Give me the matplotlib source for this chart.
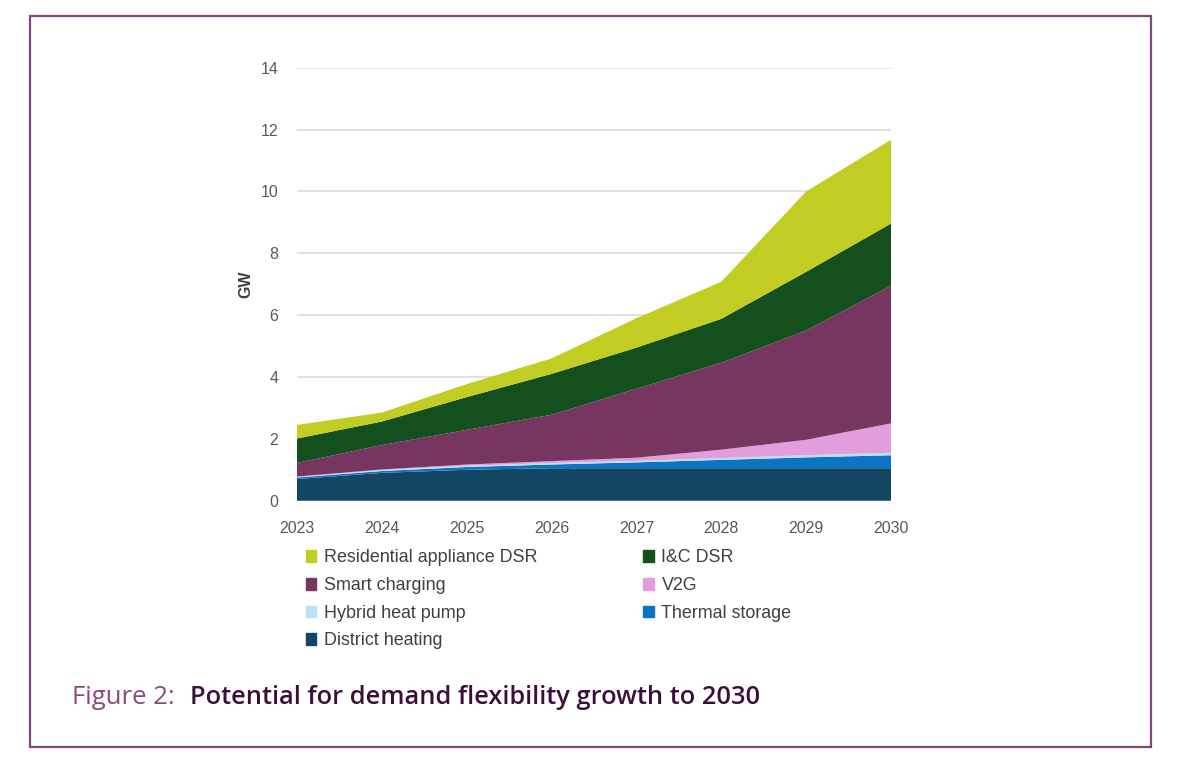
import matplotlib.pyplot as plt
import matplotlib.patches as mpatches
import numpy as np

plt.rcParams['font.family'] = ['Liberation Sans', 'DejaVu Sans']

years = [2023, 2024, 2025, 2026, 2027, 2028, 2029, 2030]

# GW per category (stacked from the bottom up)
district_heating = [0.70, 0.90, 1.00, 1.05, 1.05, 1.05, 1.05, 1.05]
thermal_storage = [0.05, 0.06, 0.09, 0.12, 0.19, 0.27, 0.35, 0.42]
hybrid_heat_pump = [0.02, 0.03, 0.04, 0.05, 0.05, 0.06, 0.07, 0.08]
v2g = [0.01, 0.02, 0.04, 0.06, 0.10, 0.27, 0.50, 0.95]
smart_charging = [0.44, 0.79, 1.12, 1.50, 2.23, 2.81, 3.53, 4.45]
ic_dsr = [0.79, 0.76, 1.06, 1.32, 1.33, 1.42, 1.90, 2.01]
residential_dsr = [0.44, 0.29, 0.42, 0.50, 0.95, 1.20, 2.60, 2.71]

labels = ['District heating', 'Thermal storage', 'Hybrid heat pump', 'V2G',
          'Smart charging', 'I&C DSR', 'Residential appliance DSR']
colors = ['#134663', '#0b74c4', '#b9e3f5', '#e29ddc',
          '#76365f', '#14501e', '#c2cd23']

fig = plt.figure(figsize=(11.79, 7.64), dpi=100)
W, H = 1179., 764.

# frame round the figure
fig.patches.append(mpatches.Rectangle((30/W, 1 - 747/H), (1151-30)/W, (747-16)/H,
                                      transform=fig.transFigure, fill=False,
                                      edgecolor='#7d4a78', linewidth=1.6))

ax = fig.add_axes([297/W, 1 - 500.7/H, (891-297)/W, (500.7-67.7)/H])
ax.stackplot(years, district_heating, thermal_storage, hybrid_heat_pump, v2g,
             smart_charging, ic_dsr, residential_dsr,
             colors=colors, labels=labels, linewidth=0, zorder=2)

ax.set_xlim(2023, 2030)
ax.set_ylim(0, 14)
ax.set_xticks(years)
ax.set_yticks(range(0, 15, 2))
ax.yaxis.grid(True, color='#d9d9d9', linewidth=1.1)
ax.set_axisbelow(True)
for s in ax.spines.values():
    s.set_visible(False)
ax.tick_params(axis='both', length=0, labelsize=11.5, labelcolor='#595959')
ax.tick_params(axis='x', pad=14.5)
ax.tick_params(axis='y', pad=13.5)
ax.set_ylabel('GW', fontsize=11.5, fontweight='bold', color='#404040', labelpad=5)

# legend: row-major order in the picture, matplotlib fills columns first
order = [6, 4, 2, 0, 5, 3, 1]
handles = [mpatches.Patch(color=colors[i]) for i in order]
leg = fig.legend(handles, [labels[i] for i in order], ncol=2,
                 loc='upper left', bbox_to_anchor=(305.5/W, 1 - 549.5/H),
                 frameon=False, fontsize=12.9, handlelength=0.61, handleheight=0.61,
                 handletextpad=0.4, labelspacing=0.59, columnspacing=5.93,
                 borderaxespad=0, borderpad=0)
for t in leg.get_texts():
    t.set_color('#404040')

fig.text(72/W, 1 - 698/H, 'Figure 2:', fontsize=18.5, color='#8a4a80',
         family='Open Sans', va='center')
fig.text(190/W, 1 - 698/H, 'Potential for demand flexibility growth to 2030',
         fontsize=18.3, color='#3d0e3a', family='Open Sans', fontweight='semibold',
         va='center')

fig.savefig('out.png', dpi=100)
